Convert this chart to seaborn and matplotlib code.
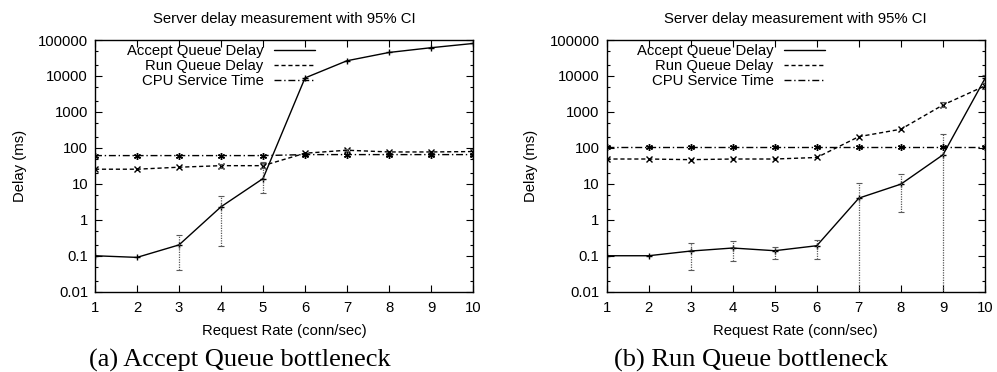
import numpy as np
import pandas as pd
import seaborn as sns
import matplotlib
matplotlib.use("Agg")
import matplotlib.pyplot as plt
from matplotlib.lines import Line2D
from matplotlib.ticker import LogLocator, NullFormatter

# ---------------- data ----------------
rate = [1, 2, 3, 4, 5, 6, 7, 8, 9, 10]

# (a) Accept Queue bottleneck
a_accept = [0.1, 0.09, 0.2, 2.3, 14, 8800, 26500, 45000, 61000, 80000]
a_accept_lo = [np.nan, np.nan, 0.041, 0.19, 5.7, np.nan, np.nan, np.nan, np.nan, np.nan]
a_accept_hi = [np.nan, np.nan, 0.38, 4.7, 39, np.nan, np.nan, np.nan, np.nan, np.nan]
a_run = [25.5, 25.5, 29, 32, 32, 71, 86, 77, 77, 79]
a_run_lo = [np.nan, np.nan, np.nan, 28, 27, np.nan, 80, np.nan, np.nan, 72]
a_run_hi = [np.nan, np.nan, np.nan, 36, 40, np.nan, 94, np.nan, np.nan, 92]
a_cpu = [61, 61, 61, 61, 61, 65, 65, 65, 65, 65]

# (b) Run Queue bottleneck
b_accept = [0.1, 0.1, 0.135, 0.164, 0.138, 0.19, 4.0, 9.8, 64, 8500]
b_accept_lo = [np.nan, np.nan, 0.041, 0.073, 0.083, 0.083, 0.001, 1.66, 0.001, 6500]
b_accept_hi = [np.nan, np.nan, 0.23, 0.26, 0.18, 0.28, 10.5, 19, 240, 10500]
b_run = [49, 49, 47, 49, 49, 54, 205, 330, 1560, 5300]
b_run_lo = [np.nan, np.nan, np.nan, np.nan, np.nan, np.nan, np.nan, np.nan, 1350, 4300]
b_run_hi = [np.nan, np.nan, np.nan, np.nan, np.nan, np.nan, np.nan, np.nan, 1850, 6200]
b_cpu = [105, 105, 105, 105, 105, 105, 105, 105, 105, 105]

series_labels = ["Accept Queue Delay", "Run Queue Delay", "CPU Service Time"]
title_text = "Server delay measurement with 95% CI"
xlabel_text = "Request Rate (conn/sec)"
ylabel_text = "Delay (ms)"
captions = ["(a) Accept Queue bottleneck", "(b) Run Queue bottleneck"]
ytick_vals = [0.01, 0.1, 1, 10, 100, 1000, 10000, 100000]
ytick_labels = ["0.01", "0.1", "1", "10", "100", "1000", "10000", "100000"]

# ---------------- style ----------------
sns.set_style("ticks", {"xtick.direction": "in", "ytick.direction": "in"})
plt.rcParams["font.family"] = ["Liberation Sans", "DejaVu Sans"]
plt.rcParams["text.color"] = "black"
plt.rcParams["axes.labelcolor"] = "black"
plt.rcParams["xtick.color"] = "black"
plt.rcParams["ytick.color"] = "black"
FS = 10.7

fig = plt.figure(figsize=(9.97, 3.72), dpi=100)
W, H = 997.0, 372.0
ax_bottom = (H - 291.7) / H
ax_height = (291.7 - 40.0) / H
axes = [
    fig.add_axes([95.0 / W, ax_bottom, (473.0 - 95.0) / W, ax_height]),
    fig.add_axes([606.5 / W, ax_bottom, (985.0 - 606.5) / W, ax_height]),
]

styles = [
    dict(linestyle="-", marker="+"),
    dict(linestyle=(0, (3.0, 2.0)), marker="x"),
    dict(linestyle=(0, (5.0, 2.0, 1.0, 2.0)), marker=(6, 2, 0)),
]

panels = [
    [(a_accept, a_accept_lo, a_accept_hi), (a_run, a_run_lo, a_run_hi), (a_cpu, None, None)],
    [(b_accept, b_accept_lo, b_accept_hi), (b_run, b_run_lo, b_run_hi), (b_cpu, None, None)],
]
legend_x = [0.582, 0.577]
caption_x = [240.0 / W, 751.0 / W]

for ax, panel, lx, cap, cx in zip(axes, panels, legend_x, captions, caption_x):
    for (vals, lo, hi), st in zip(panel, styles):
        df = pd.DataFrame({"rate": rate, "delay": vals})
        sns.lineplot(data=df, x="rate", y="delay", ax=ax, color="black",
                     linewidth=1.0, markersize=5, markeredgewidth=1.0,
                     markeredgecolor="black", **st)
        if lo is not None:
            r = np.array(rate, dtype=float)
            v = np.array(vals, dtype=float)
            l = np.array(lo, dtype=float)
            h = np.array(hi, dtype=float)
            m = np.isfinite(l)
            eb = ax.errorbar(r[m], v[m], yerr=[v[m] - l[m], h[m] - v[m]], fmt="none",
                             ecolor="0.35", elinewidth=0.9, capsize=2.0, capthick=0.8)
            for coll in eb[2]:
                coll.set_linestyle((0, (1.0, 1.0)))
    ax.set_yscale("log")
    ax.set_xlim(1, 10)
    ax.set_ylim(0.01, 100000)
    ax.set_xticks(rate)
    ax.set_xticklabels([str(v) for v in rate])
    ax.set_yticks(ytick_vals)
    ax.set_yticklabels(ytick_labels)
    ax.yaxis.set_minor_locator(LogLocator(base=10, subs=(2.0, 5.0), numticks=20))
    ax.yaxis.set_minor_formatter(NullFormatter())
    ax.tick_params(which="both", direction="in", top=True, right=True, colors="black",
                   labelsize=FS)
    ax.tick_params(which="major", length=5, width=0.8)
    ax.tick_params(which="minor", length=2.5, width=0.8)
    ax.tick_params(axis="x", pad=7)
    ax.tick_params(axis="y", pad=5)
    for sp in ax.spines.values():
        sp.set_visible(True)
        sp.set_color("black")
        sp.set_linewidth(1.0)
    ax.set_xlabel(xlabel_text, fontsize=FS, labelpad=6)
    ax.set_ylabel(ylabel_text, fontsize=FS, labelpad=8)
    ax.set_title(title_text, fontsize=FS, pad=12)
    handles = [Line2D([], [], color="black", linewidth=1.0, linestyle=st["linestyle"])
               for st in styles]
    ax.legend(handles, series_labels, loc="upper right", bbox_to_anchor=(lx, 0.985),
              frameon=False, markerfirst=False, fontsize=FS, handlelength=2.75,
              handletextpad=0.7, labelspacing=0.07, borderpad=0.0, borderaxespad=0.0)
    fig.text(cx, 0.03, cap, family=["Liberation Serif", "DejaVu Serif"], fontsize=19,
             ha="center", va="center", color="black")

fig.savefig("out.png", dpi=100)
